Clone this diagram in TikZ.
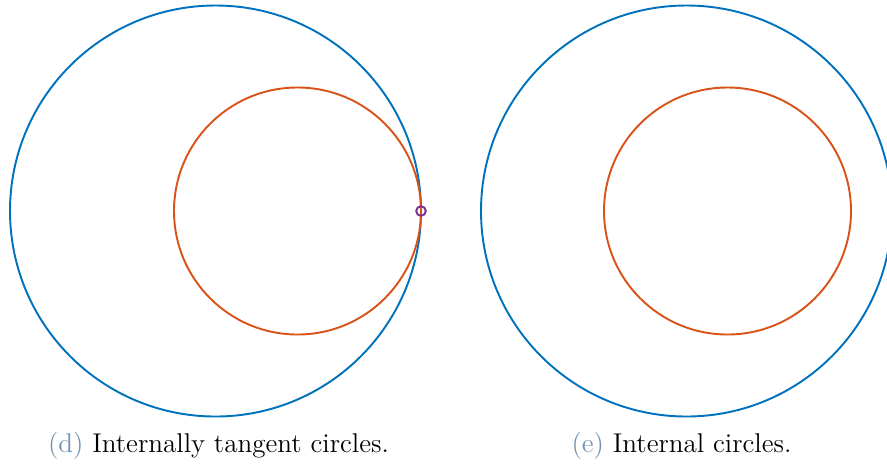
\documentclass[tikz,border=0pt]{standalone}
\definecolor{cblue}{RGB}{0,114,189}
\definecolor{corange}{RGB}{217,83,25}
\definecolor{cpurple}{RGB}{126,47,142}
\definecolor{clabel}{RGB}{112,146,176}
\begin{document}
\begin{tikzpicture}[x=0.4167pt,y=-0.4167pt,
  bigc/.style={draw=cblue,line width=0.8pt},
  smallc/.style={draw=corange,line width=0.8pt},
  tanmark/.style={draw=cpurple,line width=0.8pt},
  captext/.style={anchor=base,inner sep=0pt,font=\fontsize{11.3pt}{13.6pt}\selectfont}]
\useasboundingbox (0,0) rectangle (887,464);
\begin{scope}
\clip (0,0) rectangle (887,464);
\draw[bigc] (215.5,211) circle[radius=205.5];
\draw[smallc] (297.5,211) circle[radius=123.5];
\draw[tanmark] (421,211) circle[radius=4.8];
\draw[bigc] (686.5,211) circle[radius=205.5];
\draw[smallc] (727.5,211) circle[radius=123.5];
\end{scope}
\node[captext] (capd) at (218.5,452) {\textcolor{clabel}{(d)} Internally tangent circles.};
\node[captext] (cape) at (681.5,452) {\textcolor{clabel}{(e)} Internal circles.};
\end{tikzpicture}
\end{document}
